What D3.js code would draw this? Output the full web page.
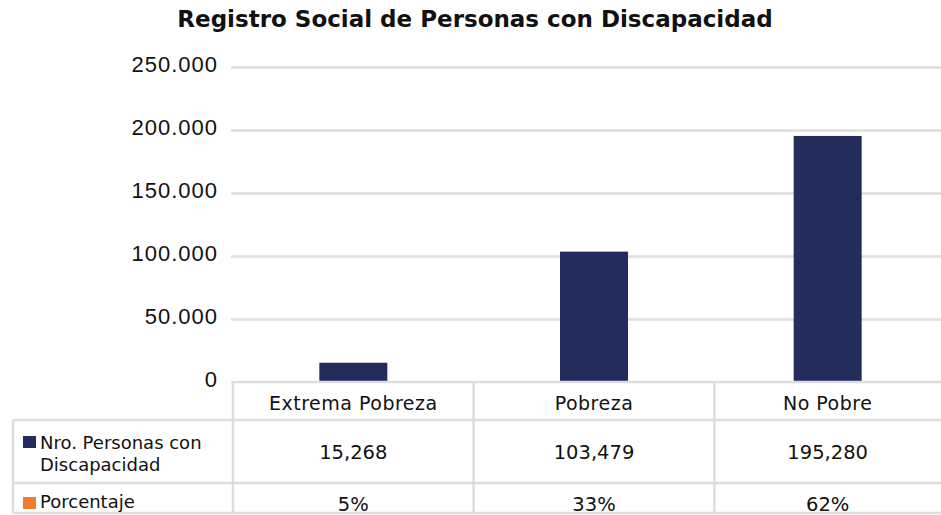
<!DOCTYPE html>
<html>
<head>
<meta charset="utf-8">
<script src="https://cdn.jsdelivr.net/npm/d3@7"></script>
<style>
  body { margin: 0; background: #fff; }
  svg { font-family: "DejaVu Sans", sans-serif; }
  .title { font-weight: bold; font-size: 23px; fill: #111; }
  .tick text { font-size: 22px; letter-spacing: 1px; fill: #111; }
  .cell { font-size: 19.5px; fill: #111; }
  .head { font-size: 19px; letter-spacing: 0.5px; fill: #111; }
  .legend { font-size: 18px; fill: #111; }
</style>
</head>
<body>
<svg id="chart"></svg>
<script>
// data
var categories = ["Extrema Pobreza", "Pobreza", "No Pobre"];
var personas = [15268, 103479, 195280];
var porcentaje = ["5%", "33%", "62%"];
var yTicks = [0, 50000, 100000, 150000, 200000, 250000];
var seriesNames = [["Nro. Personas con", "Discapacidad"], ["Porcentaje"]];
var seriesColors = ["#232c5b", "#ed7d31"];

var screen = {width: 941, height: 515};
var grid = "#dedede";

var svg = d3.select("#chart")
    .attr("width", screen.width)
    .attr("height", screen.height);

// plot area + table columns share the same x band
var xScale = d3.scaleBand()
    .domain(categories)
    .range([233, 955]);

var yScale = d3.scaleLinear()
    .domain([0, 250000])
    .range([382, 67]);

// centre of the part of each cell that is actually on screen
var visCenter = function(c){
    var x0 = xScale(c), x1 = Math.min(x0 + xScale.bandwidth(), screen.width);
    return (x0 + x1) / 2;
}

svg.append("text")
    .classed("title", true)
    .attr("x", 475)
    .attr("y", 27)
    .attr("text-anchor", "middle")
    .text("Registro Social de Personas con Discapacidad");

// y axis: gridlines + labels with "." thousands
var es = d3.formatLocale({decimal: ",", thousands: ".", grouping: [3], currency: ["", ""]});
var yAxis = d3.axisLeft(yScale)
    .tickValues(yTicks)
    .tickFormat(es.format(","))
    .tickSize(-(screen.width - 231))
    .tickPadding(13);

var ax = svg.append("g")
    .attr("transform", "translate(231,0)")
    .call(yAxis);
ax.select(".domain").remove();
ax.selectAll(".tick line")
    .attr("stroke", grid)
    .attr("stroke-width", 2.5)
    .filter(function(d){ return d == 0; }).remove();
ax.selectAll(".tick text").attr("dy", "0.2em");

// bars
svg.append("g")
    .selectAll("rect")
    .data(personas)
    .enter()
    .append("rect")
    .attr("x", function(d, i){ return visCenter(categories[i]) - 34; })
    .attr("width", 68)
    .attr("y", function(d){ return yScale(d); })
    .attr("height", function(d){ return yScale(0) - yScale(d); })
    .attr("fill", seriesColors[0]);

// data table
var rows = [382, 420, 483, 513];
var table = svg.append("g").attr("stroke", grid).attr("stroke-width", 2.5);
table.append("line").attr("x1", 231).attr("x2", screen.width).attr("y1", rows[0]).attr("y2", rows[0]);
rows.slice(1).forEach(function(y){
    table.append("line").attr("x1", 13).attr("x2", screen.width).attr("y1", y).attr("y2", y);
});
table.append("line").attr("x1", 13).attr("x2", 13).attr("y1", rows[1]).attr("y2", rows[3]);
categories.forEach(function(c){
    table.append("line")
        .attr("x1", xScale(c)).attr("x2", xScale(c))
        .attr("y1", rows[0]).attr("y2", rows[3]);
});

var fmt = d3.format(",");
var cells = svg.append("g").attr("text-anchor", "middle");
categories.forEach(function(c, i){
    var cx = visCenter(c);
    cells.append("text").classed("head", true)
        .attr("x", cx).attr("y", 410).text(c);
    cells.append("text").classed("cell", true)
        .attr("x", cx).attr("y", 459).text(fmt(personas[i]));
    cells.append("text").classed("cell", true)
        .attr("x", cx).attr("y", 511).text(porcentaje[i]);
});

// row headers with legend keys
var legendY = [[449, 471], [508]];
var keyY = [436, 497];
seriesNames.forEach(function(lines, i){
    svg.append("rect")
        .attr("x", 23).attr("y", keyY[i])
        .attr("width", 13).attr("height", 12)
        .attr("fill", seriesColors[i]);
    lines.forEach(function(t, j){
        svg.append("text").classed("legend", true)
            .attr("x", 40).attr("y", legendY[i][j])
            .text(t);
    });
});
</script>
</body>
</html>
